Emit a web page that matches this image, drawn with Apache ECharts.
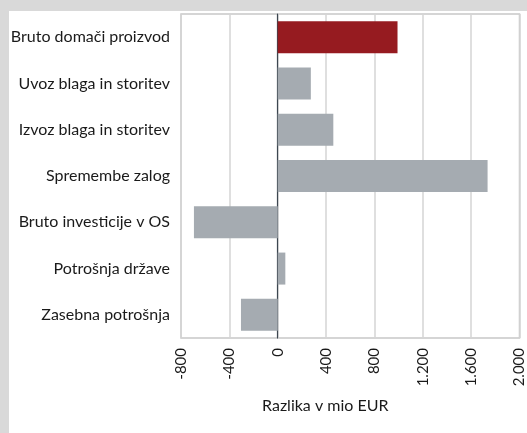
<!DOCTYPE html>
<html>
<head>
<meta charset="utf-8">
<script src="https://cdn.jsdelivr.net/npm/echarts@6/dist/echarts.min.js"></script>
<style>
  html, body { margin: 0; padding: 0; background: #ffffff; overflow: hidden; }
  #chart { width: 527px; height: 433px; }
</style>
</head>
<body>
<div id="chart"></div>
<script>
// kategorije od zgoraj navzdol
const categories = [
    'Bruto domači proizvod',
    'Uvoz blaga in storitev',
    'Izvoz blaga in storitev',
    'Spremembe zalog',
    'Bruto investicije v OS',
    'Potrošnja države',
    'Zasebna potrošnja'
];
const values = [991, 274, 460, 1736, -693, 63, -304];
const highlighted = 'Bruto domači proizvod';

const fontFamily = 'Lato, "Open Sans", sans-serif';

let myChart = echarts.init(document.getElementById('chart'));

function formatNumber (v) {
    // pike kot ločilo tisočic
    return String(v).replace(/\B(?=(\d{3})+(?!\d))/g, '.');
}

let option = {
    backgroundColor: '#ffffff',
    animation: false,
    graphic: [
        // sivi okvir levo in zgoraj
        {
            type: 'rect',
            z: -10,
            shape: { x: 0, y: 0, width: 527, height: 11 },
            style: { fill: '#d9d9d9' }
        },
        {
            type: 'rect',
            z: -10,
            shape: { x: 0, y: 0, width: 9, height: 433 },
            style: { fill: '#d9d9d9' }
        }
    ],
    grid: {
        left: 181,
        right: 5,
        top: 14,
        bottom: 95,
        show: true,
        borderColor: '#c8c8c8',
        borderWidth: 1.5,
        backgroundColor: '#ffffff'
    },
    xAxis: {
        type: 'value',
        min: -800,
        max: 2000,
        interval: 400,
        name: 'Razlika v mio EUR',
        nameLocation: 'middle',
        nameGap: 60,
        nameTextStyle: {
            color: '#1a1a1a',
            fontSize: 16,
            fontFamily: fontFamily,
            padding: [0, 50, 0, 0]
        },
        axisLine: { show: false },
        axisTick: { show: false },
        axisLabel: {
            rotate: 90,
            margin: 10,
            color: '#1a1a1a',
            fontSize: 15,
            fontFamily: fontFamily,
            formatter: formatNumber
        },
        splitLine: {
            lineStyle: { color: '#d4d4d4', width: 1.5 }
        }
    },
    yAxis: {
        type: 'category',
        inverse: true,
        data: categories,
        axisLine: {
            onZero: true,
            lineStyle: { color: '#3c4650', width: 1.2 }
        },
        axisTick: { show: false },
        axisLabel: {
            margin: 11,
            color: '#1a1a1a',
            fontSize: 16,
            fontFamily: fontFamily
        }
    },
    series: [
        {
            type: 'bar',
            barWidth: 32,
            data: values.map(function (v, i) {
                return {
                    value: v,
                    itemStyle: {
                        color: categories[i] === highlighted ? '#961b20' : '#a5abb1'
                    }
                };
            })
        }
    ]
};
myChart.setOption(option);
</script>
</body>
</html>
